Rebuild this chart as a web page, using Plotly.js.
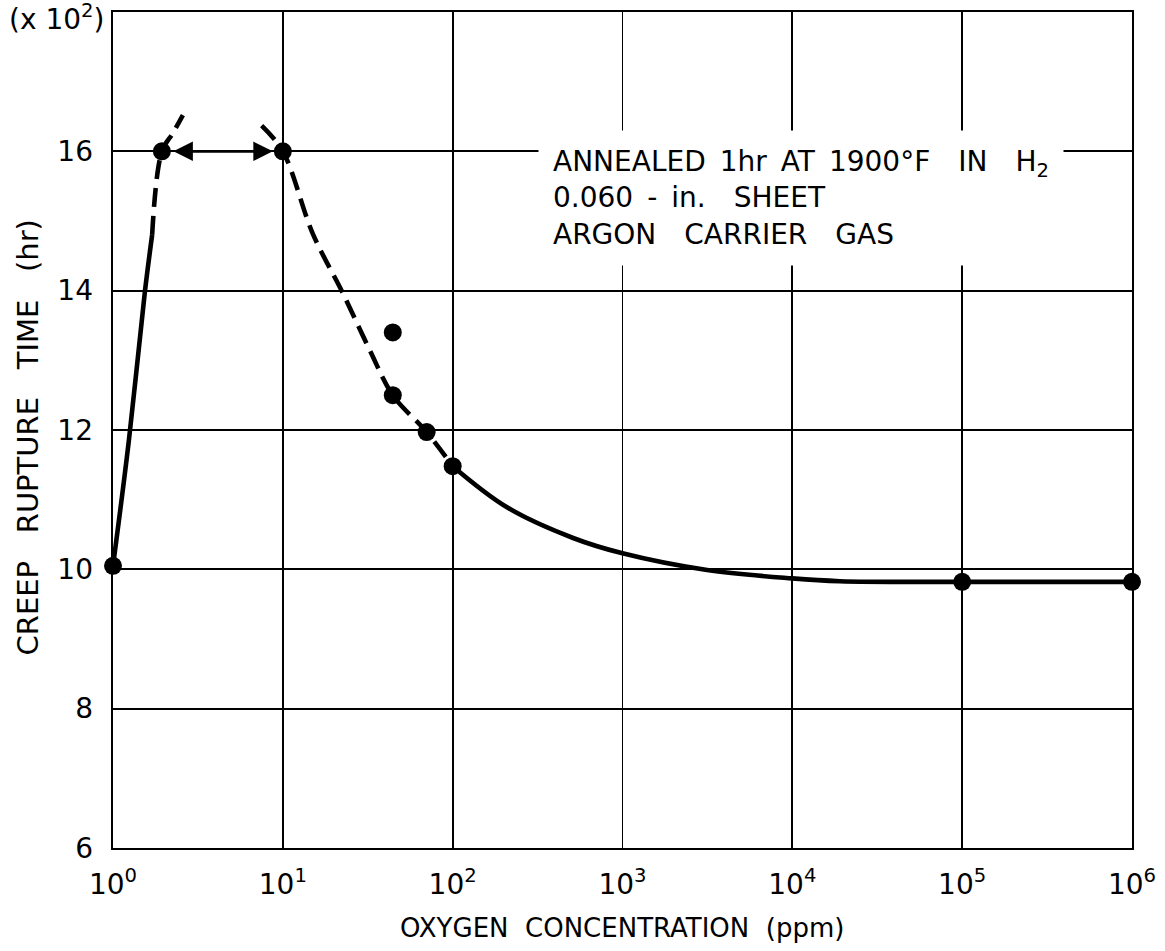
<!DOCTYPE html>
<html>
<head>
<meta charset="utf-8">
<script src="https://cdn.plot.ly/plotly-3.0.1.min.js"></script>
<style>html,body{margin:0;padding:0;background:#fff;}#chart{width:1165px;height:951px;}</style>
</head>
<body>
<div id="chart"></div>
<script>
// Measured data points (oxygen ppm, creep rupture time x100 hr)
const pointsX = [1, 1.94, 10, 44.4, 44.4, 70.3, 100, 1e5, 1e6];
const pointsY = [10.05, 16, 16, 13.4, 12.5, 11.97, 11.48, 9.82, 9.82];

// Hand-drawn curve through the data
const leftSolidX = [1, 1.24, 1.54, 1.70];
const leftSolidY = [10.05, 11.85, 13.98, 14.8];
const leftDashX = [1.70, 1.94, 2.25, 2.58];
const leftDashY = [14.8, 16, 16.26, 16.52];
const rightDashX = [7.5, 10, 15, 22.6, 32.6, 44.4, 70.3, 100];
const rightDashY = [16.37, 16, 14.82, 13.96, 13.14, 12.5, 11.97, 11.48];
const rightSolidX = [100, 209, 512, 1000, 3150, 1e4, 1.9e4, 1e5, 1e6];
const rightSolidY = [11.48, 10.89, 10.45, 10.23, 9.99, 9.87, 9.83, 9.82, 9.82];

// Axis ticks
const xTickVals = [1, 10, 100, 1e3, 1e4, 1e5, 1e6];
const xTickText = ['10<sup>0</sup>', '10<sup>1</sup>', '10<sup>2</sup>', '10<sup>3</sup>', '10<sup>4</sup>', '10<sup>5</sup>', '10<sup>6</sup>'];
const yTickVals = [6, 8, 10, 12, 14, 16];
const yTickText = ['6', '8', '10', '12', '14', '16'];

const FONT = 'DejaVu Sans, Liberation Sans, sans-serif';
const NB = '\u00A0';
const EN = '\u2002';
const lineStyle = {color: 'black', width: 4.6, shape: 'spline', smoothing: 1};
const dashStyle = Object.assign({}, lineStyle, {dash: '19px,9px'});

const traces = [
  {x: leftSolidX, y: leftSolidY, mode: 'lines', line: lineStyle},
  {x: leftDashX, y: leftDashY, mode: 'lines', line: dashStyle},
  {x: rightDashX, y: rightDashY, mode: 'lines', line: dashStyle},
  {x: rightSolidX, y: rightSolidY, mode: 'lines', line: lineStyle},
  {x: pointsX, y: pointsY, mode: 'markers', cliponaxis: false, marker: {color: 'black', size: 18}}
];

const infoText =
  'ANNEALED' + EN + '1hr' + EN + 'AT' + EN + '1900°F' + EN + EN + 'IN' + EN + EN + 'H<sub>2</sub>' +
  '<br>0.060' + EN + '-' + EN + 'in.' + EN + EN + 'SHEET' +
  '<br>ARGON' + EN + EN + 'CARRIER' + EN + EN + 'GAS';

const layout = {
  width: 1165, height: 951,
  margin: {l: 113, r: 33, t: 12, b: 103},
  paper_bgcolor: 'white', plot_bgcolor: 'white',
  showlegend: false,
  hovermode: false,
  font: {family: FONT, color: 'black', size: 27},
  xaxis: {
    type: 'log', range: [0, 6],
    tickvals: xTickVals, ticktext: xTickText,
    tickfont: {family: FONT, size: 28, color: 'black'},
    ticks: '', ticklabelstandoff: 10,
    showgrid: true, gridcolor: 'black', gridwidth: 1.7,
    showline: true, mirror: true, linecolor: 'black', linewidth: 2.4,
    zeroline: false
  },
  yaxis: {
    range: [6, 18],
    tickvals: yTickVals, ticktext: yTickText,
    tickfont: {family: FONT, size: 28, color: 'black'},
    ticks: '', ticklabelstandoff: 12,
    showgrid: true, gridcolor: 'black', gridwidth: 1.7,
    showline: true, mirror: true, linecolor: 'black', linewidth: 2.4,
    zeroline: false
  },
  annotations: [
    {
      xref: 'paper', yref: 'paper', x: 0.417, y: 0.859, xanchor: 'left', yanchor: 'top',
      showarrow: false, align: 'left', bgcolor: 'white', borderpad: 14,
      text: infoText,
      font: {family: FONT, size: 28, color: 'black'}
    },
    {
      xref: 'x', yref: 'y', axref: 'x', ayref: 'y',
      x: Math.log10(pointsX[2]), y: pointsY[2],
      ax: Math.log10(pointsX[1]), ay: pointsY[1],
      text: '', showarrow: true, arrowside: 'end+start',
      arrowhead: 2, startarrowhead: 2, arrowsize: 1.5, startarrowsize: 1.5,
      arrowwidth: 2.6, arrowcolor: 'black', standoff: 10, startstandoff: 10
    },
    {
      xref: 'paper', yref: 'paper', x: -0.083, y: 0.4916, xanchor: 'center', yanchor: 'middle',
      textangle: -90, showarrow: false,
      text: 'CREEP' + NB + NB + NB + 'RUPTURE' + NB + NB + NB + 'TIME' + NB + NB + NB + '(hr)',
      font: {family: FONT, size: 29, color: 'black'}
    },
    {
      xref: 'paper', yref: 'paper', x: 0.4995, y: -0.0955, xanchor: 'center', yanchor: 'middle',
      showarrow: false,
      text: 'OXYGEN' + NB + NB + 'CONCENTRATION' + NB + NB + '(ppm)',
      font: {family: FONT, size: 26, color: 'black'}
    },
    {
      xref: 'paper', yref: 'paper', x: -0.0555, y: 0.993, xanchor: 'center', yanchor: 'middle',
      showarrow: false,
      text: '(x' + NB + '10<sup>2</sup>)',
      font: {family: FONT, size: 28, color: 'black'}
    }
  ]
};

Plotly.newPlot('chart', traces, layout, {displayModeBar: false, staticPlot: true});
</script>
</body>
</html>
